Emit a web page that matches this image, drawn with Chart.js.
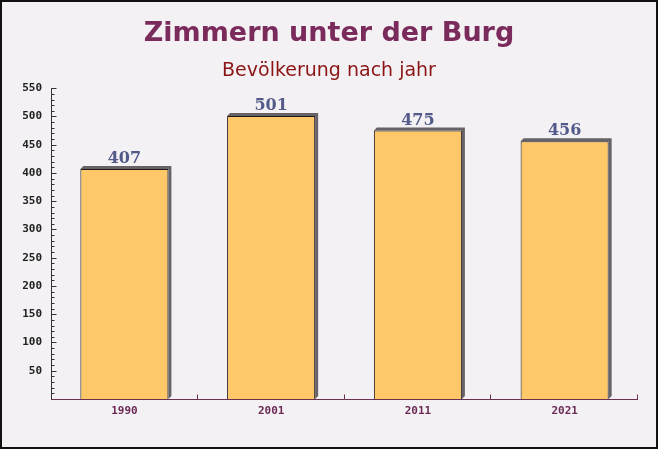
<!DOCTYPE html>
<html><head><meta charset="utf-8">
<script src="https://cdn.jsdelivr.net/npm/chart.js@4/dist/chart.umd.min.js"></script>
<style>html,body{margin:0;padding:0;background:#f3f1f3;}canvas{display:block;}</style>
</head><body>
<div style="width:658px;height:449px;position:relative"><canvas id="c" width="658" height="449"></canvas></div>
<script>
const categories = ["1990", "2001", "2011", "2021"];
const population = [407, 501, 475, 456];
const yTicks = [50, 100, 150, 200, 250, 300, 350, 400, 450, 500, 550];
const titleText = "Zimmern unter der Burg";
const subtitleText = "Bevölkerung nach jahr";

const deco = {
  id: 'deco',
  beforeDraw(chart) {
    const ctx = chart.ctx;
    ctx.save();
    ctx.fillStyle = '#f3f1f3';
    ctx.fillRect(0, 0, chart.width, chart.height);
    ctx.restore();
  },
  beforeDatasetsDraw(chart) {
    const ctx = chart.ctx;
    const meta = chart.getDatasetMeta(0);
    ctx.save();
    ctx.fillStyle = '#666266';
    meta.data.forEach(bar => {
      const l = bar.x - bar.width / 2, r = bar.x + bar.width / 2, t = bar.y, b = bar.base;
      const d = 3;
      ctx.beginPath();
      ctx.moveTo(l, t);
      ctx.lineTo(l + d, t - d);
      ctx.lineTo(r + d, t - d);
      ctx.lineTo(r + d, b - d);
      ctx.lineTo(r, b);
      ctx.lineTo(r, t);
      ctx.closePath();
      ctx.fill();
    });
    ctx.restore();
  },
  afterDatasetsDraw(chart) {
    const ctx = chart.ctx;
    const meta = chart.getDatasetMeta(0);
    const ys = chart.scales.y, xs = chart.scales.x;
    ctx.save();
    // value labels
    ctx.fillStyle = '#525a8a';
    ctx.font = 'bold 16px "DejaVu Serif"';
    ctx.textAlign = 'center';
    ctx.textBaseline = 'alphabetic';
    meta.data.forEach((bar, i) => {
      ctx.fillText(String(population[i]), bar.x, bar.y - 6);
    });
    ctx.lineWidth = 1;
    // y axis line and ticks
    const x0 = Math.round(ys.right) + 0.5;
    ctx.strokeStyle = '#333';
    ctx.beginPath(); ctx.moveTo(x0, ys.top); ctx.lineTo(x0, ys.bottom); ctx.stroke();
    for (let v = 10; v <= ys.max; v += 10) {
      const y = Math.round(ys.getPixelForValue(v)) + 0.5;
      const len = (v % 50 === 0) ? 5 : 3;
      ctx.beginPath(); ctx.moveTo(x0, y); ctx.lineTo(x0 + len, y); ctx.stroke();
    }
    // x axis line and ticks
    const yb = Math.round(xs.top) + 0.5;
    ctx.strokeStyle = '#6a3050';
    ctx.beginPath(); ctx.moveTo(xs.left, yb); ctx.lineTo(xs.right, yb); ctx.stroke();
    const step = (xs.right - xs.left) / categories.length;
    for (let i = 1; i <= categories.length; i++) {
      const x = Math.round(xs.left + step * i) - 0.5;
      ctx.beginPath(); ctx.moveTo(x, yb); ctx.lineTo(x, yb - 5); ctx.stroke();
    }
    // frame
    ctx.strokeStyle = '#111';
    ctx.lineWidth = 2;
    ctx.strokeRect(1, 1, chart.width - 2, chart.height - 2);
    ctx.restore();
  }
};

new Chart(document.getElementById('c'), {
  type: 'bar',
  data: {
    labels: categories,
    datasets: [{
      data: population,
      backgroundColor: 'rgba(255,192,84,0.88)',
      borderColor: '#1e181c',
      borderWidth: { top: 1, left: 1, right: 1, bottom: 0 },
      borderSkipped: 'bottom',
      categoryPercentage: 0.6,
      barPercentage: 1.0
    }]
  },
  options: {
    responsive: false,
    animation: false,
    layout: { padding: { left: 0, right: 0, top: 0, bottom: 0 } },
    plugins: {
      legend: { display: false },
      tooltip: { enabled: false },
      title: {
        display: true, text: titleText, color: '#7b2a5c',
        font: { family: '"DejaVu Sans"', size: 27, weight: 'bold' },
        padding: { top: 18, bottom: 9 }
      },
      subtitle: {
        display: true, text: subtitleText, color: '#8b1414',
        font: { family: '"DejaVu Sans"', size: 19, weight: 'normal' },
        padding: { top: 0, bottom: 6 }
      }
    },
    scales: {
      x: {
        grid: { display: false, drawTicks: false },
        border: { display: false },
        ticks: {
          color: '#6a2a55', padding: 6,
          font: { family: '"DejaVu Sans Mono"', size: 11, weight: 'bold' }
        },
        afterFit(s) { s.height = 50; }
      },
      y: {
        min: 0, max: 550,
        grid: { display: false, drawTicks: false },
        border: { display: false },
        afterBuildTicks(s) { s.ticks = yTicks.map(v => ({ value: v })); },
        ticks: {
          color: '#222', padding: 9,
          font: { family: '"DejaVu Sans Mono"', size: 11, weight: 'bold' }
        },
        afterFit(s) { s.width = 51; }
      },
      yRight: {
        position: 'right',
        min: 0, max: 550,
        grid: { display: false, drawTicks: false },
        border: { display: false },
        ticks: { display: false },
        afterFit(s) { s.width = 20; }
      }
    }
  },
  plugins: [deco]
});
</script>
</body></html>
